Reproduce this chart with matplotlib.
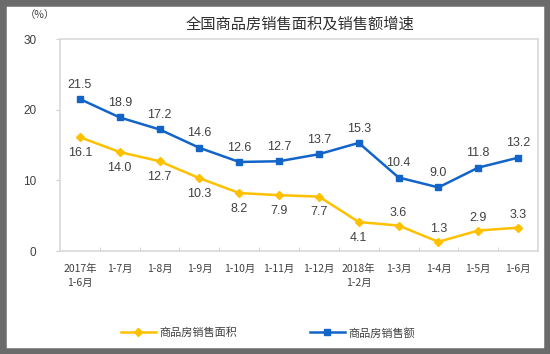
import matplotlib.pyplot as plt
from matplotlib.patches import Rectangle

plt.rcParams['font.family'] = ['Noto Sans CJK SC', 'DejaVu Sans']

# data
categories = ['2017年\n1-6月', '1-7月', '1-8月', '1-9月', '1-10月', '1-11月',
              '1-12月', '2018年\n1-2月', '1-3月', '1-4月', '1-5月', '1-6月']
area_growth = [16.1, 14.0, 12.7, 10.3, 8.2, 7.9, 7.7, 4.1, 3.6, 1.3, 2.9, 3.3]
amount_growth = [21.5, 18.9, 17.2, 14.6, 12.6, 12.7, 13.7, 15.3, 10.4, 9.0, 11.8, 13.2]

yellow = '#FFC000'
blue = '#1264C8'
text_c = '#404040'

fig = plt.figure(figsize=(5.5, 3.54), dpi=100)
ax = fig.add_axes([60 / 550, 1 - 251 / 354, 478 / 550, 212 / 354])

x = range(len(categories))
ax.plot(x, area_growth, color=yellow, lw=1.8, marker='D', ms=4, label='商品房销售面积')
ax.plot(x, amount_growth, color=blue, lw=1.8, marker='s', ms=4.5, label='商品房销售额')

for i, v in enumerate(area_growth):
    # the last few points sit near the axis, so their labels go above
    above = i >= 8
    ax.annotate(f'{v:.1f}', (i, v), xytext=(0, 5 if above else -7), textcoords='offset points',
                ha='center', va='bottom' if above else 'top', fontsize=9, color=text_c,
                family='Liberation Sans')
for i, v in enumerate(amount_growth):
    ax.annotate(f'{v:.1f}', (i, v), xytext=(0, 6), textcoords='offset points',
                ha='center', va='bottom', fontsize=9, color=text_c, family='Liberation Sans')

ax.set_xlim(-0.5, len(categories) - 0.5)
ax.set_ylim(0, 30)
ax.set_yticks([0, 10, 20, 30])
ax.set_yticklabels(['0', '10', '20', '30'], fontsize=8.5, color=text_c, family='Liberation Sans')
ax.set_xticks(list(x))
ax.set_xticklabels(categories, fontsize=7.5, color=text_c, linespacing=1.5)
ax.tick_params(axis='x', length=0, pad=9)
ax.set_xticks([i + 0.5 for i in range(len(categories) - 1)], minor=True)
ax.tick_params(axis='x', which='minor', direction='in', length=3, color='#d0d0d0')
ax.tick_params(axis='y', length=3, color='#d0d0d0', pad=14)
for s in ax.spines.values():
    s.set_color('#d9d9d9')
    s.set_linewidth(1.2)

fig.text(300 / 550, 1 - 24 / 354, '全国商品房销售面积及销售额增速', ha='center', va='center',
         fontsize=11, color='#303030')
fig.text(40 / 550, 1 - 15 / 354, '（%）', ha='center', va='center', fontsize=7.5, color=text_c)

fig.legend(loc='center', bbox_to_anchor=(0.487, 1 - 333 / 354), ncol=2, frameon=False,
           fontsize=8, columnspacing=6.5, handlelength=3.2, handletextpad=0.3,
           labelcolor=text_c)

# dark frame around the picture
fig.patches.append(Rectangle((0, 0), 1, 1, transform=fig.transFigure, fill=False,
                             edgecolor='#6b6b6b', linewidth=9))

fig.savefig('out.png', dpi=100)
